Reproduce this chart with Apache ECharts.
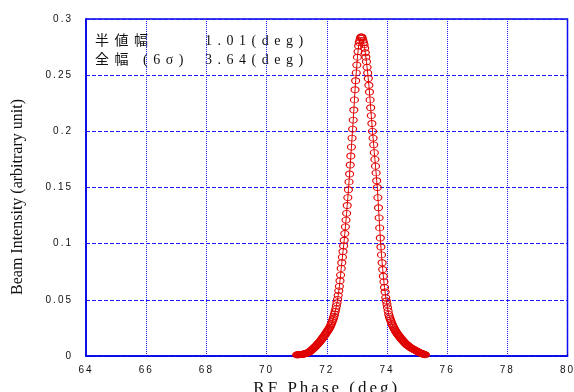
<!DOCTYPE html>
<html>
<head>
<meta charset="utf-8">
<script src="https://cdn.jsdelivr.net/npm/echarts@6/dist/echarts.min.js"></script>
<style>
html,body{margin:0;padding:0;background:#fff;}
#chart{width:574px;height:392px;}
</style>
</head>
<body>
<div id="chart"></div>
<script>
// ---- data ----
const phase = [
71.00,71.02,71.04,71.06,71.08,71.10,71.12,71.14,71.16,71.18,
71.20,71.22,71.24,71.26,71.28,71.30,71.32,71.34,71.36,71.38,
71.40,71.42,71.44,71.46,71.48,71.50,71.52,71.54,71.56,71.58,
71.60,71.62,71.64,71.66,71.68,71.70,71.72,71.74,71.76,71.78,
71.80,71.82,71.84,71.86,71.88,71.90,71.92,71.94,71.96,71.98,
72.00,72.02,72.04,72.06,72.08,72.10,72.12,72.14,72.16,72.18,
72.20,72.22,72.24,72.26,72.28,72.30,72.32,72.34,72.36,72.38,
72.40,72.42,72.44,72.46,72.48,72.50,72.52,72.54,72.56,72.58,
72.60,72.62,72.64,72.66,72.68,72.70,72.72,72.74,72.76,72.78,
72.80,72.82,72.84,72.86,72.88,72.90,72.92,72.94,72.96,72.98,
73.00,73.02,73.04,73.06,73.08,73.10,73.12,73.14,73.16,73.18,
73.20,73.22,73.24,73.26,73.28,73.30,73.32,73.34,73.36,73.38,
73.40,73.42,73.44,73.46,73.48,73.50,73.52,73.54,73.56,73.58,
73.60,73.62,73.64,73.66,73.68,73.70,73.72,73.74,73.76,73.78,
73.80,73.82,73.84,73.86,73.88,73.90,73.92,73.94,73.96,73.98,
74.00,74.02,74.04,74.06,74.08,74.10,74.12,74.14,74.16,74.18,
74.20,74.22,74.24,74.26,74.28,74.30,74.32,74.34,74.36,74.38,
74.40,74.42,74.44,74.46,74.48,74.50,74.52,74.54,74.56,74.58,
74.60,74.62,74.64,74.66,74.68,74.70,74.72,74.74,74.76,74.78,
74.80,74.82,74.84,74.86,74.88,74.90,74.92,74.94,74.96,74.98,
75.00,75.02,75.04,75.06,75.08,75.10,75.12,75.14,75.16,75.18,
75.20,75.22,75.24,75.26,75.28
];
const intensity = [
0.0010,0.0010,0.0011,0.0011,0.0012,0.0012,0.0013,0.0013,0.0014,0.0015,
0.0016,0.0017,0.0018,0.0019,0.0020,0.0022,0.0024,0.0026,0.0028,0.0030,
0.0033,0.0036,0.0040,0.0044,0.0048,0.0053,0.0058,0.0063,0.0068,0.0073,
0.0078,0.0083,0.0088,0.0094,0.0100,0.0106,0.0112,0.0118,0.0124,0.0130,
0.0137,0.0144,0.0151,0.0158,0.0165,0.0172,0.0180,0.0188,0.0196,0.0204,
0.0212,0.0220,0.0228,0.0236,0.0245,0.0255,0.0266,0.0278,0.0291,0.0305,
0.0320,0.0336,0.0354,0.0374,0.0396,0.0420,0.0446,0.0474,0.0504,0.0540,
0.0580,0.0620,0.0670,0.0720,0.0780,0.0830,0.0880,0.0930,0.0980,0.1030,
0.1090,0.1150,0.1210,0.1270,0.1340,0.1410,0.1480,0.1550,0.1620,0.1700,
0.1780,0.1860,0.1940,0.2020,0.2100,0.2190,0.2280,0.2370,0.2450,0.2520,
0.2590,0.2660,0.2710,0.2760,0.2790,0.2810,0.2830,0.2840,0.2840,0.2830,
0.2810,0.2790,0.2770,0.2740,0.2700,0.2660,0.2620,0.2570,0.2520,0.2470,
0.2410,0.2350,0.2280,0.2210,0.2140,0.2070,0.2000,0.1940,0.1880,0.1810,
0.1750,0.1690,0.1630,0.1560,0.1500,0.1410,0.1320,0.1230,0.1140,0.1050,
0.0970,0.0900,0.0830,0.0770,0.0710,0.0660,0.0610,0.0570,0.0520,0.0490,
0.0460,0.0430,0.0400,0.0370,0.0350,0.0335,0.0320,0.0305,0.0290,0.0278,
0.0266,0.0255,0.0244,0.0234,0.0225,0.0216,0.0208,0.0200,0.0192,0.0185,
0.0178,0.0171,0.0164,0.0157,0.0151,0.0145,0.0139,0.0133,0.0127,0.0121,
0.0115,0.0110,0.0105,0.0100,0.0096,0.0092,0.0088,0.0084,0.0080,0.0076,
0.0072,0.0069,0.0066,0.0063,0.0060,0.0057,0.0054,0.0051,0.0048,0.0045,
0.0042,0.0039,0.0036,0.0033,0.0030,0.0028,0.0026,0.0024,0.0022,0.0020,
0.0018,0.0016,0.0014,0.0012,0.0010
];
const xTitle = 'RF Phase (deg)';
const yTitle = 'Beam Intensity (arbitrary unit)';
const noteLabels = ['半値幅', '全幅 (6σ)'];
const noteValues = ['1.01(deg)', '3.64(deg)'];

// letter spacing by font size (the reference uses widely spaced text)
(function(){
  const proto = CanvasRenderingContext2D.prototype;
  const orig = proto.fillText;
  const SP = {'10': '2px', '14': '5.5px', '17': '3px'};
  proto.fillText = function(t, x, y, w){
    if ('letterSpacing' in this) {
      const m = /(\d+(?:\.\d+)?)px/.exec(this.font);
      this.letterSpacing = (m && SP[m[1]]) || '0px';
    }
    return w === undefined ? orig.call(this, t, x, y) : orig.call(this, t, x, y, w);
  };
})();

const RED = '#e00000';
const BLUE = '#0000e6';
const GRIDBLUE = '#1a1aff';
const chart = echarts.init(document.getElementById('chart'), null, {renderer: 'canvas'});
const noteFont = '14px "Liberation Serif", "Noto Sans CJK JP", serif';
chart.setOption({
  animation: false,
  backgroundColor: '#fff',
  grid: {left: 86, right: 6.5, top: 19, bottom: 36, show: true, borderColor: BLUE, borderWidth: 1.5, outerBoundsMode: 'none'},
  xAxis: {
    type: 'value', min: 64, max: 80, interval: 2,
    axisLine: {show: true, lineStyle: {color: BLUE, width: 1.5}},
    axisTick: {show: false},
    splitLine: {show: true, lineStyle: {color: GRIDBLUE, width: 1, type: [1, 1]}},
    axisLabel: {margin: 9, color: '#111', fontSize: 10, fontFamily: '"Liberation Sans", sans-serif'},
    name: xTitle, nameLocation: 'middle', nameGap: 19,
    nameTextStyle: {fontFamily: '"Liberation Serif", serif', fontSize: 17, color: '#111'}
  },
  yAxis: {
    type: 'value', min: 0, max: 0.3, interval: 0.05,
    axisLine: {show: true, lineStyle: {color: BLUE, width: 1.5}},
    axisTick: {show: false},
    splitLine: {show: true, lineStyle: {color: GRIDBLUE, width: 1, type: [4, 2]}},
    axisLabel: {margin: 13, color: '#111', fontSize: 10, fontFamily: '"Liberation Sans", sans-serif'}
  },
  graphic: [
    {type: 'text', x: 17.5, y: 197, rotation: Math.PI / 2,
     style: {text: yTitle, font: '16px "Liberation Serif", serif', fill: '#111', textAlign: 'center', textVerticalAlign: 'middle'}},
    {type: 'text', x: 95, y: 41, style: {text: noteLabels[0], font: noteFont, fill: '#111', textVerticalAlign: 'middle'}},
    {type: 'text', x: 205, y: 41, style: {text: noteValues[0], font: noteFont, fill: '#111', textVerticalAlign: 'middle'}},
    {type: 'text', x: 95, y: 60, style: {text: noteLabels[1], font: noteFont, fill: '#111', textVerticalAlign: 'middle'}},
    {type: 'text', x: 205, y: 60, style: {text: noteValues[1], font: noteFont, fill: '#111', textVerticalAlign: 'middle'}}
  ],
  series: [{
    type: 'line',
    data: phase.map((x, i) => [x, intensity[i]]),
    symbol: 'circle', symbolSize: [8, 6], showAllSymbol: true,
    itemStyle: {color: 'rgba(0,0,0,0)', borderColor: RED, borderWidth: 1},
    lineStyle: {color: RED, width: 1},
    emphasis: {disabled: true},
    silent: true
  }]
});
</script>
</body>
</html>
